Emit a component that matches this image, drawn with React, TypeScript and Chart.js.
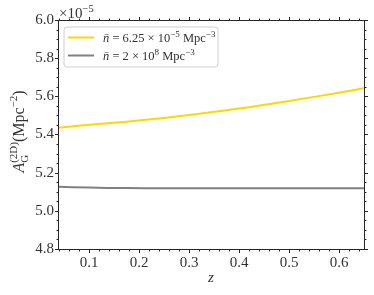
import { useEffect, useRef } from 'react';
import { Chart, registerables } from 'chart.js';

Chart.register(...registerables);

const FONT = '"Liberation Serif", "DejaVu Serif", serif';

// Redshift sample points
const zValues = [0.038, 0.1, 0.175, 0.25, 0.3, 0.4, 0.5, 0.6, 0.65];
// A_G^(2D) in units of 1e-5 Mpc^-2
const lowDensityValues = [5.436, 5.451, 5.467, 5.487, 5.502, 5.536, 5.576, 5.619, 5.642];
const highDensityValues = [5.126, 5.122, 5.119, 5.118, 5.118, 5.118, 5.118, 5.118, 5.118];

const xTicks = [0.1, 0.2, 0.3, 0.4, 0.5, 0.6];
const yTicks = [4.8, 5.0, 5.2, 5.4, 5.6, 5.8, 6.0];

type Run = { t: string; size: number; dy?: number; italic?: boolean; stack?: boolean };

function layoutRuns(ctx: CanvasRenderingContext2D, runs: Run[]) {
  let x = 0;
  let prevStart = 0;
  const placed: (Run & { x: number })[] = [];
  for (const r of runs) {
    ctx.font = `${r.italic ? 'italic ' : ''}${r.size}px ${FONT}`;
    const w = ctx.measureText(r.t).width;
    let start: number;
    if (r.stack) {
      start = prevStart;
      x = Math.max(x, start + w);
    } else {
      start = x;
      x += w;
      prevStart = start;
    }
    placed.push({ ...r, x: start });
  }
  return { placed, width: x };
}

function drawRuns(ctx: CanvasRenderingContext2D, runs: Run[], x0: number, y0: number, center = false) {
  const { placed, width } = layoutRuns(ctx, runs);
  const sx = center ? x0 - width / 2 : x0;
  ctx.textBaseline = 'alphabetic';
  ctx.textAlign = 'left';
  for (const r of placed) {
    ctx.font = `${r.italic ? 'italic ' : ''}${r.size}px ${FONT}`;
    ctx.fillText(r.t, sx + r.x, y0 + (r.dy || 0));
  }
}

const TEXT = '#333333';

const decorPlugin = {
  id: 'decor',
  afterDraw(chart: any) {
    const ctx: CanvasRenderingContext2D = chart.ctx;
    const { left, right, top, bottom } = chart.chartArea;
    const xs = chart.scales.x;
    const ys = chart.scales.y;
    ctx.save();
    ctx.strokeStyle = '#262626';
    ctx.lineWidth = 1;
    ctx.strokeRect(Math.round(left) + 0.5, Math.round(top) + 0.5, Math.round(right - left), Math.round(bottom - top));

    const tick = (x1: number, y1: number, x2: number, y2: number) => {
      ctx.beginPath();
      ctx.moveTo(x1, y1);
      ctx.lineTo(x2, y2);
      ctx.stroke();
    };
    for (let i = 0; i <= 40; i++) {
      const v = Math.round(i * 0.02 * 1000) / 1000;
      if (v < xs.min - 1e-9 || v > xs.max + 1e-9) continue;
      const major = Math.abs(v * 10 - Math.round(v * 10)) < 1e-6;
      const len = major ? 3.5 : 2;
      const px = Math.round(xs.getPixelForValue(v)) + 0.5;
      tick(px, Math.round(bottom) + 0.5, px, Math.round(bottom) + 0.5 + len);
      tick(px, Math.round(top) + 0.5, px, Math.round(top) + 0.5 - len);
    }
    for (let i = 0; i <= 24; i++) {
      const v = 4.8 + i * 0.05;
      const major = i % 4 === 0;
      const len = major ? 3.5 : 2;
      const py = Math.round(ys.getPixelForValue(v)) + 0.5;
      tick(Math.round(left) + 0.5, py, Math.round(left) + 0.5 - len, py);
      tick(Math.round(right) + 0.5, py, Math.round(right) + 0.5 + len, py);
    }

    ctx.fillStyle = TEXT;
    drawRuns(ctx, [
      { t: '×10', size: 15 },
      { t: '−5', size: 10.5, dy: -6 },
    ], left + 1, top - 2);

    drawRuns(ctx, [{ t: 'z', size: 15, italic: true }], (left + right) / 2, 282, true);

    ctx.save();
    ctx.translate(24, (top + bottom) / 2 - 3);
    ctx.rotate(-Math.PI / 2);
    drawRuns(ctx, [
      { t: 'A', size: 16, italic: true },
      { t: 'G', size: 11, dy: 3.5 },
      { t: '(2D)', size: 11, dy: -7, stack: true },
      { t: '(Mpc', size: 16 },
      { t: '−2', size: 11, dy: -7 },
      { t: ')', size: 16 },
    ], 0, 0, true);
    ctx.restore();

    const bx = 64, by = 27, bw = 154, bh = 40, r = 3;
    ctx.beginPath();
    ctx.moveTo(bx + r, by);
    ctx.arcTo(bx + bw, by, bx + bw, by + bh, r);
    ctx.arcTo(bx + bw, by + bh, bx, by + bh, r);
    ctx.arcTo(bx, by + bh, bx, by, r);
    ctx.arcTo(bx, by, bx + bw, by, r);
    ctx.closePath();
    ctx.fillStyle = 'rgba(255,255,255,0.8)';
    ctx.fill();
    ctx.strokeStyle = '#d0d0d0';
    ctx.lineWidth = 1;
    ctx.stroke();

    const ds = chart.data.datasets;
    const rowsY = [37.5, 55.5];
    const labels: Run[][] = [
      [
        { t: 'n̄', size: 12.5, italic: true },
        { t: ' = 6.25 × 10', size: 12.5 },
        { t: '−5', size: 9, dy: -5 },
        { t: ' Mpc', size: 12.5 },
        { t: '−3', size: 9, dy: -5 },
      ],
      [
        { t: 'n̄', size: 12.5, italic: true },
        { t: ' = 2 × 10', size: 12.5 },
        { t: '8', size: 9, dy: -5 },
        { t: ' Mpc', size: 12.5 },
        { t: '−3', size: 9, dy: -5 },
      ],
    ];
    for (let i = 0; i < 2; i++) {
      ctx.strokeStyle = ds[i].borderColor;
      ctx.lineWidth = ds[i].borderWidth;
      ctx.beginPath();
      ctx.moveTo(68, rowsY[i]);
      ctx.lineTo(94, rowsY[i]);
      ctx.stroke();
      ctx.fillStyle = TEXT;
      drawRuns(ctx, labels[i], 103, rowsY[i] + 4);
    }
    ctx.restore();
  },
};

export default function App() {
  const ref = useRef<HTMLCanvasElement>(null);
  useEffect(() => {
    if (!ref.current) return;
    const chart = new Chart(ref.current, {
      type: 'line',
      data: {
        datasets: [
          {
            label: 'n̄ = 6.25 × 10⁻⁵ Mpc⁻³',
            data: zValues.map((z, i) => ({ x: z, y: lowDensityValues[i] })),
            borderColor: '#FFD700',
            borderWidth: 2,
            pointRadius: 0,
            tension: 0.3,
            fill: false,
          },
          {
            label: 'n̄ = 2 × 10⁸ Mpc⁻³',
            data: zValues.map((z, i) => ({ x: z, y: highDensityValues[i] })),
            borderColor: '#808080',
            borderWidth: 2,
            pointRadius: 0,
            tension: 0.3,
            fill: false,
          },
        ],
      },
      options: {
        animation: false,
        responsive: false,
        events: [],
        layout: { padding: { top: 20, right: 10, left: 0, bottom: 0 } },
        plugins: { legend: { display: false }, tooltip: { enabled: false } },
        scales: {
          x: {
            type: 'linear',
            min: 0.038,
            max: 0.65,
            grid: { display: false, drawTicks: false, tickLength: 0 },
            border: { display: false },
            afterFit: (s: any) => { s.height = 46; },
            afterBuildTicks: (s: any) => { s.ticks = xTicks.map((v) => ({ value: v })); },
            ticks: {
              padding: 5,
              color: TEXT,
              font: { family: FONT, size: 15 },
              maxRotation: 0,
              callback: (v: any) => Number(v).toFixed(1),
            },
          },
          y: {
            type: 'linear',
            min: 4.8,
            max: 6.0,
            grid: { display: false, drawTicks: false, tickLength: 0 },
            border: { display: false },
            afterFit: (s: any) => { s.width = 58; },
            afterBuildTicks: (s: any) => { s.ticks = yTicks.map((v) => ({ value: v })); },
            ticks: {
              padding: 4,
              color: TEXT,
              font: { family: FONT, size: 15 },
              callback: (v: any) => Number(v).toFixed(1),
            },
          },
        },
      },
      plugins: [decorPlugin],
    });
    return () => chart.destroy();
  }, []);
  return (
    <div style={{ position: 'absolute', left: 0, top: 0, width: 374, height: 295 }}>
      <canvas ref={ref} width={374} height={295} style={{ width: 374, height: 295 }} />
    </div>
  );
}
